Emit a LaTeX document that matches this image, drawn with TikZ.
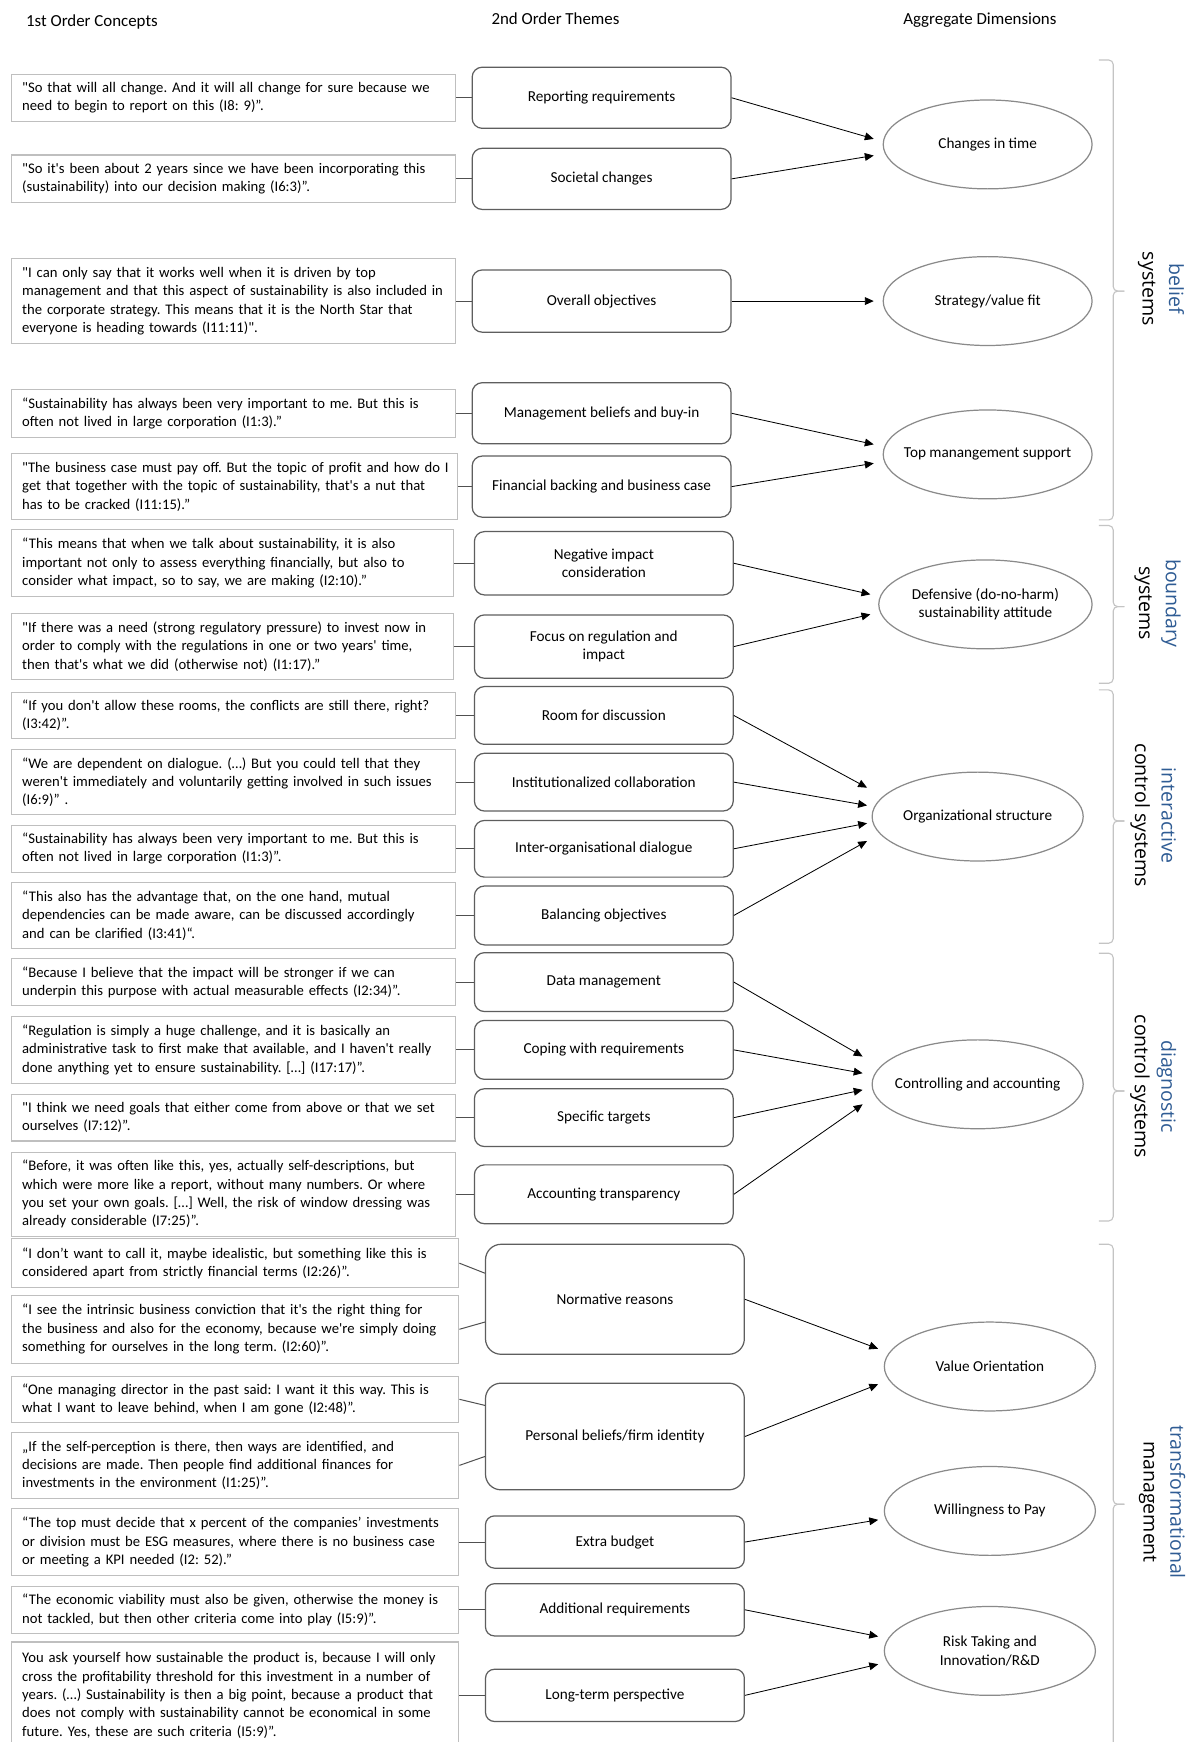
\documentclass[tikz,border=0pt]{standalone}
\usepackage{fontspec}
\setmainfont{Carlito}[Ligatures=TeXOff]
\newfontfamily\labelfont{Open Sans}
\usetikzlibrary{shapes.geometric,arrows.meta,calc}

\definecolor{quoteline}{HTML}{BFBFBF}
\definecolor{themeline}{HTML}{5E5E5E}
\definecolor{dimline}{HTML}{8A8A8A}
\definecolor{braceline}{HTML}{C4C4C4}
\definecolor{labelblue}{HTML}{2F5C94}
\definecolor{linkgray}{HTML}{505050}

\newcommand\bodysize{\fontsize{13.2}{16.5}\selectfont\frenchspacing}
\newcommand\themesize{\fontsize{13.7}{16.5}\selectfont\frenchspacing}
\newcommand\fullline[1]{\makebox[\hsize][s]{#1}}

\begin{document}
\begin{tikzpicture}[x=1pt,y=-1pt,
  quote/.style={draw=quoteline, line width=1pt, rectangle, inner xsep=10pt, inner ysep=0pt,
                text width=380pt, align=left, font=\bodysize},
  widequote/.style={quote, text width=383pt},
  theme/.style={draw=themeline, line width=1.1pt, rectangle, rounded corners=9pt,
                minimum width=233pt, inner sep=2pt, align=center, font=\themesize},
  talltheme/.style={theme, rounded corners=14pt},
  dim/.style={draw=dimline, line width=1.1pt, ellipse, inner xsep=-16pt, inner ysep=0pt,
              minimum width=190pt, minimum height=80pt, align=center, font=\themesize},
  link/.style={draw=linkgray, line width=0.9pt},
  feed/.style={draw=black, line width=0.75pt, -{Triangle[length=8pt,width=7pt]}},
  brace/.style={draw=braceline, line width=1pt, rounded corners=4pt},
  group/.style={rotate=-90, align=center, font=\labelfont\fontsize{17.6}{24}\selectfont},
  head/.style={font=\fontsize{15.2}{17}\selectfont}
]
\fill[white] (0,0) rectangle (1068,1568);
\useasboundingbox (0,0) rectangle (1068,1568);

% column headings
\node[head, anchor=west] (h1) at (20,20) {1st Order Concepts};
\node[head] (h2) at (500,17) {2nd Order Themes};
\node[head] (h3) at (882,18) {Aggregate Dimensions};

% ---------------- 1st order concepts ----------------
\node[quote, minimum height=42pt] (q1) at (210,88)
  {"So that will all change. And it will all change for sure because we\\need to begin to report on this (I8: 9)”.};
\node[quote, minimum height=43pt] (q2) at (210,161)
  {"So it's been about 2 years since we have been incorporating this\\(sustainability) into our decision making (I6:3)”.};
\node[quote, minimum height=76pt] (q3) at (210,271)
  {"I can only say that it works well when it is driven by top\\management and that this aspect of sustainability is also included in\\the corporate strategy. This means that it is the North Star that\\everyone is heading towards (I11:11)".};
\node[quote, minimum height=43pt] (q4) at (210,372)
  {“Sustainability has always been very important to me. But this is\\often not lived in large corporation (I1:3).”};
\node[quote, text width=382pt, minimum height=60pt] (q5) at (211,438)
  {\fullline{"The business case must pay off. But the topic of profit and how do I}\\\fullline{get that together with the topic of sustainability, that's a nut that}\\has to be cracked (I11:15).”};
\node[quote, text width=378pt, minimum height=60pt] (q6) at (209,507)
  {“This means that when we talk about sustainability, it is also\\important not only to assess everything financially, but also to\\consider what impact, so to say, we are making (I2:10).”};
\node[quote, text width=378pt, minimum height=60pt] (q7) at (209,582)
  {"If there was a need (strong regulatory pressure) to invest now in\\order to comply with the regulations in one or two years' time,\\then that's what we did (otherwise not) (I1:17).”};
\node[quote, minimum height=42pt] (q8) at (210,644)
  {“If you don't allow these rooms, the conflicts are still there, right?\\(I3:42)”.};
\node[quote, minimum height=59pt] (q9) at (210,704)
  {“We are dependent on dialogue. (…) But you could tell that they\\weren't immediately and voluntarily getting involved in such issues\\(I6:9)” .};
\node[quote, minimum height=42pt] (q10) at (210,764)
  {“Sustainability has always been very important to me. But this is\\often not lived in large corporation (I1:3)”.};
\node[quote, minimum height=59pt] (q11) at (210,824)
  {“This also has the advantage that, on the one hand, mutual\\dependencies can be made aware, can be discussed accordingly\\and can be clarified (I3:41)“.};
\node[quote, minimum height=42pt] (q12) at (210,884)
  {“Because I believe that the impact will be stronger if we can\\underpin this purpose with actual measurable effects (I2:34)”.};
\node[quote, minimum height=60pt] (q13) at (210,945)
  {“Regulation is simply a huge challenge, and it is basically an\\administrative task to first make that available, and I haven't really\\done anything yet to ensure sustainability. […] (I17:17)”.};
\node[quote, minimum height=42pt] (q14) at (210,1006)
  {"I think we need goals that either come from above or that we set\\ourselves (I7:12)”.};
\node[quote, minimum height=76pt] (q15) at (210,1075)
  {“Before, it was often like this, yes, actually self-descriptions, but\\which were more like a report, without many numbers. Or where\\you set your own goals. […] Well, the risk of window dressing was\\already considerable (I7:25)”.};
\node[widequote, minimum height=44pt] (q16) at (211.5,1137)
  {“I don’t want to call it, maybe idealistic, but something like this is\\considered apart from strictly financial terms (I2:26)”.};
\node[widequote, minimum height=61pt] (q17) at (211.5,1196.5)
  {“I see the intrinsic business conviction that it's the right thing for\\the business and also for the economy, because we're simply doing\\something for ourselves in the long term. (I2:60)”.};
\node[widequote, minimum height=41pt] (q18) at (211.5,1259.5)
  {“One managing director in the past said: I want it this way. This is\\what I want to leave behind, when I am gone (I2:48)”.};
\node[widequote, minimum height=60pt] (q19) at (211.5,1319)
  {„If the self-perception is there, then ways are identified, and\\decisions are made. Then people find additional finances for\\investments in the environment (I1:25)”.};
\node[widequote, minimum height=61pt] (q20) at (211.5,1388)
  {“The top must decide that x percent of the companies’ investments\\or division must be ESG measures, where there is no business case\\or meeting a KPI needed (I2: 52).”};
\node[widequote, minimum height=42pt] (q21) at (211.5,1449)
  {“The economic viability must also be given, otherwise the money is\\not tackled, but then other criteria come into play (I5:9)”.};
\node[widequote, minimum height=96pt] (q22) at (211.5,1526)
  {You ask yourself how sustainable the product is, because I will only\\cross the profitability threshold for this investment in a number of\\years. (…) Sustainability is then a big point, because a product that\\does not comply with sustainability cannot be economical in some\\future. Yes, these are such criteria (I5:9)”.};

% ---------------- 2nd order themes ----------------
\node[theme, minimum height=55pt] (t1) at (541.5,88) {Reporting requirements};
\node[theme, minimum height=55pt] (t2) at (541.5,161) {Societal changes};
\node[theme, minimum height=56pt] (t3) at (541.5,271) {Overall objectives};
\node[theme, minimum height=55pt] (t4) at (541.5,372) {Management beliefs and buy-in};
\node[theme, minimum height=55pt] (t5) at (541.5,438) {Financial backing and business case};
\node[theme, minimum height=57pt] (t6) at (543.5,507) {Negative impact\\consideration};
\node[theme, minimum height=57pt] (t7) at (543.5,582) {Focus on regulation and\\impact};
\node[theme, minimum height=52pt] (t8) at (543.5,644) {Room for discussion};
\node[theme, minimum height=52pt] (t9) at (543.5,704) {Institutionalized collaboration};
\node[theme, minimum height=51pt] (t10) at (543.5,764) {Inter-organisational dialogue};
\node[theme, minimum height=53pt] (t11) at (543.5,824) {Balancing objectives};
\node[theme, minimum height=53pt] (t12) at (543.5,884) {Data management};
\node[theme, minimum height=53pt] (t13) at (543.5,945) {Coping with requirements};
\node[theme, minimum height=52pt] (t14) at (543.5,1006) {Specific targets};
\node[theme, minimum height=53pt] (t15) at (543.5,1075) {Accounting transparency};
\node[talltheme, minimum height=99pt] (t16) at (553.5,1169.5) {Normative reasons};
\node[talltheme, minimum height=96pt] (t17) at (553.5,1293) {Personal beliefs/firm identity};
\node[theme, minimum height=47pt, rounded corners=8pt] (t18) at (553.5,1388) {Extra budget};
\node[theme, minimum height=47pt, rounded corners=8pt] (t19) at (553.5,1449) {Additional requirements};
\node[theme, minimum height=47pt, rounded corners=8pt] (t20) at (553.5,1526) {Long-term perspective};

% ---------------- aggregate dimensions ----------------
\node[dim, minimum width=188pt] (e1) at (889,130) {Changes in time};
\node[dim, minimum width=188pt] (e2) at (889,271) {Strategy/value fit};
\node[dim, minimum width=188pt] (e3) at (889,409) {Top manangement support};
\node[dim, minimum width=192pt] (e4) at (887,544) {Defensive (do-no-harm)\\sustainability attitude};
\node[dim] (e5) at (880,735) {Organizational structure};
\node[dim] (e6) at (880,976) {Controlling and accounting};
\node[dim] (e7) at (891,1230) {Value Orientation};
\node[dim] (e8) at (891,1360) {Willingness to Pay};
\node[dim] (e9) at (891,1486) {Risk Taking and\\Innovation/R\&D};

% ---------------- concept -> theme links ----------------
\foreach \i in {1,...,15} {\draw[link] (q\i) -- (t\i);}
\draw[link] (q16.east) -- ([yshift=23.5pt]t16.west);
\draw[link] (q17.east) -- ([yshift=-20.5pt]t16.west);
\draw[link] (q18.east) -- ([yshift=28pt]t17.west);
\draw[link] (q19.east) -- ([yshift=-18pt]t17.west);
\draw[link] (q20) -- (t18);
\draw[link] (q21) -- (t19);
\draw[link] (q22) -- (t20);

% ---------------- theme -> dimension arrows ----------------
\draw[feed] (t1.east) -- ($(e1.west)+(-8,-5)$);
\draw[feed] (t2.east) -- ($(e1.west)+(-8,10)$);
\draw[feed] (t3.east) -- ($(e2.west)+(-8,0)$);
\draw[feed] (t4.east) -- ($(e3.west)+(-8,-9)$);
\draw[feed] (t5.east) -- ($(e3.west)+(-8,8)$);
\draw[feed] (t6.east) -- ($(e4.west)+(-7,-9)$);
\draw[feed] (t7.east) -- ($(e4.west)+(-7,9)$);
\draw[feed] (t8.east) -- ($(e5.west)+(-4,-26)$);
\draw[feed] (t9.east) -- ($(e5.west)+(-4,-10)$);
\draw[feed] (t10.east) -- ($(e5.west)+(-4,6)$);
\draw[feed] (t11.east) -- ($(e5.west)+(-4,22)$);
\draw[feed] (t12.east) -- ($(e6.west)+(-8,-25)$);
\draw[feed] (t13.east) -- ($(e6.west)+(-8,-10)$);
\draw[feed] (t14.east) -- ($(e6.west)+(-8,5)$);
\draw[feed] (t15.east) -- ($(e6.west)+(-8,18)$);
\draw[feed] (t16.east) -- ($(e7.west)+(-5,-16)$);
\draw[feed] (t17.east) -- ($(e7.west)+(-5,16)$);
\draw[feed] (t18.east) -- ($(e8.west)+(-5,8)$);
\draw[feed] (t19.east) -- ($(e9.west)+(-5,-13)$);
\draw[feed] (t20.east) -- ($(e9.west)+(-5,12)$);

% ---------------- group braces ----------------
\draw[brace] (989,54) -- (1002,54) -- (1002,262) -- (1012,262);
\draw[brace] (1012,262) -- (1002,262) -- (1002,468) -- (989,468);
\draw[brace] (989,473) -- (1002,473) -- (1002,546) -- (1012,546);
\draw[brace] (1012,546) -- (1002,546) -- (1002,615) -- (989,615);
\draw[brace] (989,621) -- (1002,621) -- (1002,739) -- (1012,739);
\draw[brace] (1012,739) -- (1002,739) -- (1002,849) -- (989,849);
\draw[brace] (989,858) -- (1002,858) -- (1002,982) -- (1012,982);
\draw[brace] (1012,982) -- (1002,982) -- (1002,1099) -- (989,1099);
\draw[brace] (989,1120) -- (1002,1120) -- (1002,1354) -- (1012,1354);
\draw[brace] (1012,1354) -- (1002,1354) -- (1002,1590) -- (989,1590);

\node[group] (g1) at (1045,260) {{\color{labelblue}belief}\\systems};
\node[group] (g2) at (1042,543) {{\color{labelblue}boundary}\\systems};
\node[group] (g3) at (1038,734) {{\color{labelblue}interactive}\\control systems};
\node[group] (g4) at (1038,978) {{\color{labelblue}diagnostic}\\control systems};
\node[group] (g5) at (1046,1352) {{\color{labelblue}transformational}\\management};
\end{tikzpicture}
\end{document}
